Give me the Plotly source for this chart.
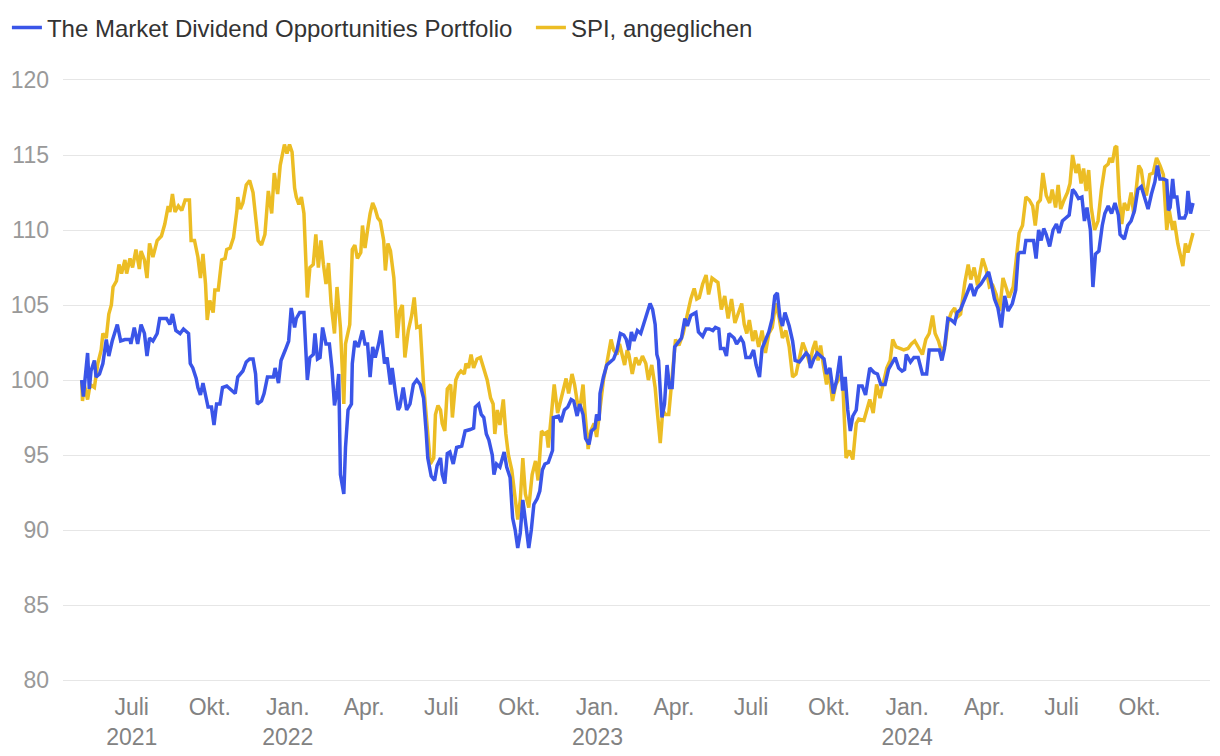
import plotly.graph_objects as go

# ---------------- data ----------------
portfolio_dates = [
 "2021-05-03","2021-05-05","2021-05-10","2021-05-12","2021-05-14","2021-05-18","2021-05-20","2021-05-24","2021-05-28",
 "2021-06-01","2021-06-04","2021-06-08","2021-06-14","2021-06-18","2021-06-23","2021-06-29","2021-06-30",
 "2021-07-04","2021-07-08","2021-07-12","2021-07-16","2021-07-19","2021-07-22","2021-07-26","2021-07-31",
 "2021-08-03","2021-08-11","2021-08-15","2021-08-18","2021-08-22","2021-08-27","2021-08-31",
 "2021-09-06","2021-09-08","2021-09-11","2021-09-15","2021-09-17","2021-09-20","2021-09-23","2021-09-26","2021-09-29",
 "2021-10-03","2021-10-06","2021-10-09","2021-10-13","2021-10-16","2021-10-21","2021-10-27","2021-10-31",
 "2021-11-03","2021-11-09","2021-11-13","2021-11-17","2021-11-21","2021-11-24","2021-11-26",
 "2021-12-01","2021-12-04","2021-12-08","2021-12-15","2021-12-17","2021-12-21","2021-12-24","2021-12-29",
 "2022-01-02","2022-01-05","2022-01-09","2022-01-11","2022-01-15","2022-01-20","2022-01-24","2022-01-27","2022-01-31",
 "2022-02-02","2022-02-05","2022-02-08","2022-02-11","2022-02-15","2022-02-19","2022-02-22","2022-02-25","2022-02-28",
 "2022-03-02","2022-03-04","2022-03-08","2022-03-10","2022-03-13","2022-03-17","2022-03-18","2022-03-21","2022-03-25","2022-03-30",
 "2022-04-02","2022-04-05","2022-04-08","2022-04-11","2022-04-14","2022-04-18","2022-04-21","2022-04-25","2022-04-28",
 "2022-05-02","2022-05-04","2022-05-08","2022-05-11","2022-05-13","2022-05-17","2022-05-21","2022-05-25","2022-05-29",
 "2022-06-02","2022-06-06","2022-06-10","2022-06-13","2022-06-15","2022-06-19","2022-06-23","2022-06-26","2022-06-30",
 "2022-07-02","2022-07-05","2022-07-08","2022-07-11","2022-07-15","2022-07-19","2022-07-25","2022-07-29",
 "2022-08-04","2022-08-08","2022-08-10","2022-08-14","2022-08-17","2022-08-20","2022-08-23","2022-08-26","2022-08-30",
 "2022-09-01","2022-09-04","2022-09-08","2022-09-10","2022-09-13","2022-09-16","2022-09-20","2022-09-23","2022-09-26","2022-09-29",
 "2022-10-02","2022-10-05","2022-10-08","2022-10-12","2022-10-15","2022-10-18","2022-10-22","2022-10-25","2022-10-28","2022-10-31",
 "2022-11-04","2022-11-09","2022-11-10","2022-11-16","2022-11-19","2022-11-23","2022-11-27",
 "2022-12-01","2022-12-04","2022-12-08","2022-12-11","2022-12-15","2022-12-18","2022-12-22","2022-12-25","2022-12-29","2022-12-31",
 "2023-01-03","2023-01-04","2023-01-08","2023-01-12","2023-01-16","2023-01-20","2023-01-24","2023-01-28",
 "2023-02-01","2023-02-04","2023-02-07","2023-02-10","2023-02-13","2023-02-17","2023-02-21","2023-02-25","2023-02-28",
 "2023-03-04","2023-03-07","2023-03-10","2023-03-12","2023-03-14","2023-03-16","2023-03-18","2023-03-21","2023-03-24","2023-03-27","2023-03-30",
 "2023-04-02","2023-04-07","2023-04-10","2023-04-14","2023-04-17","2023-04-21","2023-04-27","2023-04-30",
 "2023-05-05","2023-05-09","2023-05-13","2023-05-17","2023-05-20","2023-05-24","2023-05-26","2023-05-30",
 "2023-06-02","2023-06-05","2023-06-11","2023-06-14","2023-06-19","2023-06-22","2023-06-25","2023-06-30",
 "2023-07-04","2023-07-07","2023-07-11","2023-07-14","2023-07-18","2023-07-22","2023-07-26","2023-07-29",
 "2023-08-01","2023-08-04","2023-08-07","2023-08-10","2023-08-15","2023-08-19","2023-08-22","2023-08-27","2023-08-31",
 "2023-09-04","2023-09-07","2023-09-09","2023-09-13","2023-09-17","2023-09-21","2023-09-25","2023-09-28",
 "2023-10-02","2023-10-06","2023-10-10","2023-10-14","2023-10-17","2023-10-20","2023-10-23","2023-10-26","2023-10-29",
 "2023-11-02","2023-11-05","2023-11-09","2023-11-13","2023-11-18","2023-11-23","2023-11-27",
 "2023-12-01","2023-12-06","2023-12-10","2023-12-14","2023-12-18","2023-12-22","2023-12-26","2023-12-29","2023-12-31",
 "2024-01-05","2024-01-09","2024-01-14","2024-01-19","2024-01-24","2024-01-27",
 "2024-02-02","2024-02-08","2024-02-11","2024-02-14","2024-02-18","2024-02-22","2024-02-26","2024-02-29",
 "2024-03-04","2024-03-08","2024-03-12","2024-03-16","2024-03-20","2024-03-23","2024-03-28",
 "2024-04-01","2024-04-06","2024-04-09","2024-04-13","2024-04-17","2024-04-21","2024-04-25","2024-04-29",
 "2024-05-04","2024-05-08","2024-05-11","2024-05-13","2024-05-18","2024-05-20","2024-05-24","2024-05-29",
 "2024-06-01","2024-06-04","2024-06-07","2024-06-10","2024-06-13","2024-06-17","2024-06-21","2024-06-25","2024-06-28",
 "2024-07-02","2024-07-06","2024-07-10","2024-07-14","2024-07-17","2024-07-21","2024-07-25","2024-07-28","2024-07-31",
 "2024-08-04","2024-08-07","2024-08-10","2024-08-14","2024-08-18","2024-08-21","2024-08-25","2024-08-29",
 "2024-09-02","2024-09-06","2024-09-08","2024-09-13","2024-09-17","2024-09-21","2024-09-25","2024-09-29",
 "2024-10-03","2024-10-07","2024-10-11","2024-10-15","2024-10-19","2024-10-22","2024-10-25","2024-10-29",
 "2024-11-02","2024-11-04","2024-11-06","2024-11-09","2024-11-11","2024-11-14","2024-11-17","2024-11-23","2024-11-25","2024-11-27","2024-11-30",
 "2024-12-03",
]
portfolio_values = [
 100.0,98.9,101.8,99.4,100.6,101.3,100.2,100.4,101.1,
 102.7,101.6,102.6,103.7,102.6,102.7,102.7,102.4,
 103.5,102.4,103.7,103.1,101.6,102.8,102.6,103.1,
 104.1,104.1,103.7,104.4,103.3,103.1,103.4,
 103.1,101.1,100.8,100.1,99.5,99.0,99.8,99.1,98.2,
 98.2,97.0,98.4,98.4,99.5,99.6,99.3,99.1,
 100.2,100.6,101.2,101.4,101.4,100.4,98.4,
 98.6,99.1,100.2,100.2,100.8,99.8,101.3,102.0,
 102.6,104.8,103.5,104.1,104.5,104.5,100.0,101.5,101.7,
 103.1,101.4,101.5,103.5,102.4,102.4,100.8,98.3,99.3,
 100.4,93.7,92.4,95.5,98.0,98.4,101.1,102.6,102.2,103.3,
 102.4,102.4,100.2,102.2,101.5,102.4,103.3,101.1,101.5,
 99.7,100.8,99.1,98.0,98.2,99.5,98.0,98.4,99.7,
 100.0,99.7,98.8,96.6,94.8,93.6,93.3,94.3,94.8,
 93.7,93.1,95.1,95.2,94.4,95.5,95.6,96.6,
 96.7,96.8,98.2,98.4,97.7,97.5,96.4,96.0,95.0,
 93.7,94.4,94.2,94.6,95.2,94.2,93.5,90.8,90.0,88.8,
 89.8,92.0,90.4,88.8,90.0,91.7,92.1,92.6,94.0,94.4,
 94.5,95.3,97.5,97.6,97.2,98.0,98.2,
 98.7,98.6,97.6,98.4,97.7,96.1,95.7,96.6,96.8,97.7,
 97.3,99.1,100.2,101.0,101.2,101.4,102.0,103.1,
 103.0,102.7,102.0,103.2,102.6,103.3,103.1,103.8,104.4,
 105.1,104.7,103.7,101.7,101.3,99.3,97.5,98.4,101.0,99.5,99.5,
 102.2,102.6,102.8,104.1,103.6,104.3,104.5,103.2,
 102.9,103.4,103.4,103.3,103.5,103.4,102.1,102.1,
 101.6,103.1,102.8,102.4,102.8,102.5,101.5,101.5,
 102.0,101.0,100.2,102.1,102.6,103.2,104.1,105.6,
 105.8,104.2,103.6,104.5,103.6,102.6,101.3,101.2,101.5,
 101.8,101.6,100.8,101.4,101.8,101.6,101.4,100.4,
 100.8,99.1,100.0,101.6,99.3,100.2,98.0,96.6,97.6,
 98.0,99.6,99.6,99.0,100.8,100.5,100.4,
 99.7,99.7,100.7,101.1,101.5,100.8,100.6,100.7,101.7,
 101.2,101.5,101.5,100.4,100.4,102.0,
 102.0,102.0,101.3,102.1,104.1,104.0,103.8,104.5,
 104.7,105.3,105.9,106.4,105.6,106.1,106.4,
 106.8,107.2,106.5,105.4,104.8,103.5,105.6,104.6,
 105.1,106.0,108.4,108.5,108.5,109.3,109.3,109.3,
 108.1,110.0,109.3,110.1,109.7,108.9,110.0,110.4,109.8,
 110.6,110.8,111.0,112.7,112.5,112.1,112.2,110.6,111.5,
 110.0,106.2,108.4,108.6,110.3,111.1,111.6,111.1,
 111.8,111.0,109.7,109.4,110.3,110.6,111.3,112.7,
 112.9,112.1,111.4,112.4,113.2,114.3,113.4,113.4,
 113.3,111.3,111.5,113.4,112.2,112.2,110.8,110.8,111.1,112.6,111.1,
 111.8,
]

spi_dates = [
 "2021-05-03","2021-05-04","2021-05-06","2021-05-10","2021-05-13","2021-05-18","2021-05-22","2021-05-26","2021-05-28",
 "2021-06-01","2021-06-04","2021-06-07","2021-06-09","2021-06-13","2021-06-16","2021-06-19","2021-06-23","2021-06-25","2021-06-29",
 "2021-07-02","2021-07-06","2021-07-10","2021-07-12","2021-07-16","2021-07-19","2021-07-22","2021-07-26","2021-07-31",
 "2021-08-05","2021-08-09","2021-08-13","2021-08-15","2021-08-18","2021-08-21","2021-08-25","2021-08-29",
 "2021-09-02","2021-09-07","2021-09-09","2021-09-13","2021-09-17","2021-09-20","2021-09-23","2021-09-26","2021-09-28",
 "2021-10-01","2021-10-05","2021-10-07","2021-10-11","2021-10-15","2021-10-19","2021-10-21","2021-10-25","2021-10-29",
 "2021-11-02","2021-11-03","2021-11-06","2021-11-09","2021-11-13","2021-11-17","2021-11-21","2021-11-24","2021-11-27",
 "2021-12-01","2021-12-05","2021-12-09","2021-12-13","2021-12-16","2021-12-20","2021-12-23","2021-12-28","2021-12-31",
 "2022-01-03","2022-01-06","2022-01-09","2022-01-11","2022-01-14","2022-01-17","2022-01-20","2022-01-24","2022-01-27","2022-01-31",
 "2022-02-03","2022-02-06","2022-02-09","2022-02-12","2022-02-15","2022-02-18","2022-02-21","2022-02-25","2022-02-28",
 "2022-03-04","2022-03-08","2022-03-10","2022-03-15","2022-03-18","2022-03-21","2022-03-24","2022-03-28","2022-03-30",
 "2022-04-02","2022-04-05","2022-04-08","2022-04-11","2022-04-14","2022-04-17","2022-04-20","2022-04-24","2022-04-26","2022-04-29",
 "2022-05-02","2022-05-06","2022-05-10","2022-05-13","2022-05-16","2022-05-19","2022-05-23","2022-05-27","2022-05-30",
 "2022-06-02","2022-06-06","2022-06-10","2022-06-14","2022-06-18","2022-06-22","2022-06-24","2022-06-27","2022-06-30",
 "2022-07-02","2022-07-05","2022-07-08","2022-07-12","2022-07-14","2022-07-18","2022-07-21","2022-07-24","2022-07-28","2022-07-30",
 "2022-08-02","2022-08-05","2022-08-08","2022-08-12","2022-08-16","2022-08-20","2022-08-24","2022-08-28","2022-08-31",
 "2022-09-02","2022-09-05","2022-09-08","2022-09-12","2022-09-15","2022-09-18","2022-09-22","2022-09-26","2022-09-29",
 "2022-10-02","2022-10-05","2022-10-08","2022-10-12","2022-10-16","2022-10-20","2022-10-23","2022-10-27","2022-10-30",
 "2022-11-02","2022-11-04","2022-11-09","2022-11-11","2022-11-15","2022-11-19","2022-11-23","2022-11-25","2022-11-28",
 "2022-12-02","2022-12-05","2022-12-08","2022-12-11","2022-12-15","2022-12-17","2022-12-21","2022-12-24","2022-12-28","2022-12-31",
 "2023-01-04","2023-01-08","2023-01-12","2023-01-14","2023-01-17","2023-01-20","2023-01-24","2023-01-27","2023-01-30",
 "2023-02-02","2023-02-05","2023-02-07","2023-02-11","2023-02-15","2023-02-19","2023-02-23","2023-02-27",
 "2023-03-02","2023-03-06","2023-03-10","2023-03-12","2023-03-16","2023-03-19","2023-03-22","2023-03-26","2023-03-29",
 "2023-04-03","2023-04-07","2023-04-12","2023-04-17","2023-04-21","2023-04-25","2023-04-28",
 "2023-05-01","2023-05-05","2023-05-09","2023-05-12","2023-05-16","2023-05-19","2023-05-23","2023-05-27","2023-05-31",
 "2023-06-04","2023-06-08","2023-06-12","2023-06-17","2023-06-20","2023-06-23","2023-06-26","2023-06-29",
 "2023-07-03","2023-07-06","2023-07-10","2023-07-14","2023-07-18","2023-07-22","2023-07-26","2023-07-30",
 "2023-08-03","2023-08-07","2023-08-11","2023-08-15","2023-08-19","2023-08-23","2023-08-27","2023-08-31",
 "2023-09-04","2023-09-08","2023-09-12","2023-09-15","2023-09-18","2023-09-21","2023-09-24","2023-09-28",
 "2023-10-01","2023-10-05","2023-10-09","2023-10-14","2023-10-17","2023-10-21","2023-10-25","2023-10-29",
 "2023-11-02","2023-11-05","2023-11-11","2023-11-15","2023-11-18","2023-11-22","2023-11-26","2023-11-30",
 "2023-12-04","2023-12-08","2023-12-12","2023-12-15","2023-12-19","2023-12-23","2023-12-28",
 "2024-01-02","2024-01-06","2024-01-10","2024-01-14","2024-01-19","2024-01-23","2024-01-27","2024-01-31",
 "2024-02-03","2024-02-07","2024-02-11","2024-02-15","2024-02-18","2024-02-22","2024-02-26","2024-02-29",
 "2024-03-04","2024-03-09","2024-03-13","2024-03-16","2024-03-20","2024-03-24","2024-03-28","2024-03-30",
 "2024-04-03","2024-04-07","2024-04-11","2024-04-15","2024-04-19","2024-04-23","2024-04-27","2024-04-30",
 "2024-05-05","2024-05-09","2024-05-12","2024-05-16","2024-05-20","2024-05-24","2024-05-28","2024-05-31",
 "2024-06-03","2024-06-06","2024-06-09","2024-06-13","2024-06-17","2024-06-20","2024-06-24","2024-06-27","2024-06-30",
 "2024-07-04","2024-07-08","2024-07-11","2024-07-14","2024-07-18","2024-07-21","2024-07-24","2024-07-27","2024-07-30",
 "2024-08-02","2024-08-05","2024-08-09","2024-08-13","2024-08-17","2024-08-21","2024-08-25","2024-08-27","2024-08-30",
 "2024-09-02","2024-09-04","2024-09-07","2024-09-10","2024-09-13","2024-09-17","2024-09-21","2024-09-24","2024-09-27","2024-09-30",
 "2024-10-03","2024-10-06","2024-10-09","2024-10-13","2024-10-17","2024-10-21","2024-10-25","2024-10-29",
 "2024-11-02","2024-11-05","2024-11-09","2024-11-11","2024-11-15","2024-11-18","2024-11-21","2024-11-24","2024-11-27",
 "2024-12-03",
]
spi_values = [
 100.0,98.6,99.7,98.7,99.7,99.5,101.1,102.0,103.1,
 102.8,104.4,105.0,106.2,106.6,107.7,107.1,108.0,107.1,108.1,
 107.5,108.7,107.4,108.6,108.0,106.8,109.1,108.2,109.3,
 109.6,110.4,111.6,111.2,112.4,111.2,111.6,111.3,
 112.0,112.0,109.3,109.3,108.2,106.8,108.4,106.4,104.0,
 105.3,104.5,106.0,106.0,108.0,108.1,108.7,108.8,109.5,
 111.3,112.2,111.4,111.8,113.0,113.3,112.5,110.7,109.3,
 109.0,109.7,112.6,111.1,113.8,112.4,114.3,115.7,115.1,
 115.7,115.2,112.8,112.2,111.7,112.2,111.1,105.5,107.5,107.7,
 109.7,107.5,109.3,107.7,106.4,107.8,105.1,103.1,106.2,
 103.5,98.4,102.4,103.7,108.7,109.0,108.1,108.5,110.3,
 108.8,110.0,111.1,111.8,111.4,110.8,110.6,109.3,107.3,109.1,
 108.6,106.8,102.8,104.6,105.0,101.5,103.3,104.3,105.5,
 103.5,103.6,99.7,97.1,94.4,94.8,97.7,98.3,98.0,
 97.1,96.6,99.4,99.7,97.5,100.0,100.4,100.6,100.4,101.1,
 100.8,101.7,100.8,101.4,101.5,100.8,100.0,98.8,98.4,
 96.4,98.0,97.0,98.7,96.4,95.0,94.0,92.0,90.7,
 92.0,94.8,92.4,91.5,93.7,94.6,93.3,96.6,96.4,
 96.5,95.5,98.4,99.7,97.8,98.8,99.6,100.1,99.1,
 100.4,99.7,98.6,98.0,99.7,98.0,95.4,96.6,97.1,96.2,
 98.0,100.0,101.1,101.8,102.7,102.0,101.7,102.4,101.7,
 101.0,102.0,101.7,100.4,101.5,101.0,101.6,101.1,
 100.0,101.0,99.5,98.2,95.8,98.0,97.7,97.7,99.5,
 102.7,102.3,103.1,104.4,105.4,106.1,105.4,
 105.5,106.4,107.0,105.7,106.8,106.7,106.5,104.7,105.6,
 104.1,105.4,103.8,104.6,105.1,103.7,103.1,104.0,
 102.6,103.3,102.2,103.3,101.8,103.1,103.5,105.1,
 104.2,102.8,103.3,102.2,100.2,100.4,101.5,102.5,
 101.9,101.1,102.1,102.6,101.3,102.3,101.1,99.7,
 100.6,98.6,99.7,100.2,100.0,94.8,95.3,94.7,
 97.1,97.4,97.3,98.2,98.7,97.8,99.7,98.8,
 99.7,100.8,101.3,102.7,102.2,102.1,102.0,
 102.1,102.4,102.6,102.2,101.7,102.7,103.1,104.3,
 103.1,102.6,101.8,102.4,103.8,104.5,104.8,104.2,
 104.4,106.5,107.7,106.7,107.5,106.3,107.4,108.1,
 107.4,106.2,106.3,105.7,104.6,106.8,106.1,105.5,
 106.2,108.2,109.8,110.3,112.2,112.0,111.6,110.3,
 111.8,112.0,113.8,112.3,111.8,112.7,111.5,113.0,111.4,
 112.0,112.5,113.1,115.0,113.8,114.4,113.1,114.1,112.6,
 114.0,111.5,110.0,110.6,112.7,114.2,114.4,114.8,114.5,
 115.5,115.6,112.2,110.4,111.8,111.3,112.5,111.1,112.7,114.3,
 114.0,112.8,112.3,113.7,113.8,114.8,114.3,113.7,
 110.0,111.3,110.0,110.6,109.1,108.3,107.6,109.1,108.5,
 109.8,
]

tick_dates = ["2021-07-01","2021-10-01","2022-01-01","2022-04-01","2022-07-01","2022-10-01",
              "2023-01-01","2023-04-01","2023-07-01","2023-10-01","2024-01-01","2024-04-01",
              "2024-07-01","2024-10-01"]
tick_labels = ["Juli<br>2021","Okt.","Jan.<br>2022","Apr.","Juli","Okt.","Jan.<br>2023","Apr.",
               "Juli","Okt.","Jan.<br>2024","Apr.","Juli","Okt."]
y_ticks = [80, 85, 90, 95, 100, 105, 110, 115, 120]

portfolio_name = "The Market Dividend Opportunities Portfolio"
spi_name = "SPI, angeglichen"

# ---------------- figure ----------------
fig = go.Figure()
fig.add_trace(go.Scatter(x=spi_dates, y=spi_values, name=spi_name, mode="lines",
                         line=dict(color="#ECBD24", width=3.5)))
fig.add_trace(go.Scatter(x=portfolio_dates, y=portfolio_values, name=portfolio_name, mode="lines",
                         line=dict(color="#3A55E8", width=3.5)))

fig.update_layout(
    width=1220, height=756,
    margin=dict(l=63, r=10, t=80, b=76, autoexpand=False),
    paper_bgcolor="white", plot_bgcolor="white",
    font=dict(family="Liberation Sans, Arial, Helvetica, sans-serif", color="#333333"),
    showlegend=True,
    legend=dict(orientation="h", x=-0.0489, y=1.087, xanchor="left", yanchor="middle",
                traceorder="reversed", font=dict(size=24, color="#333333"),
                entrywidth=479, entrywidthmode="pixels",
                bgcolor="rgba(0,0,0,0)"),
    hovermode="x unified",
)
fig.update_xaxes(type="date", range=["2021-04-11", "2024-12-23"], automargin=False,
                 tickmode="array", tickvals=tick_dates, ticktext=tick_labels,
                 showgrid=False, zeroline=False, ticks="", ticklabelstandoff=6,
                 showline=True, mirror=True, linecolor="#e6e6e6", linewidth=1,
                 tickfont=dict(size=23, color="#828282"))
fig.update_yaxes(range=[80, 120], tickmode="array", tickvals=y_ticks, automargin=False,
                 showgrid=True, gridcolor="#e6e6e6", gridwidth=1,
                 zeroline=False, showline=False, ticks="", ticklabelstandoff=13,
                 tickfont=dict(size=23, color="#999999"))

fig.write_html("out.html")
